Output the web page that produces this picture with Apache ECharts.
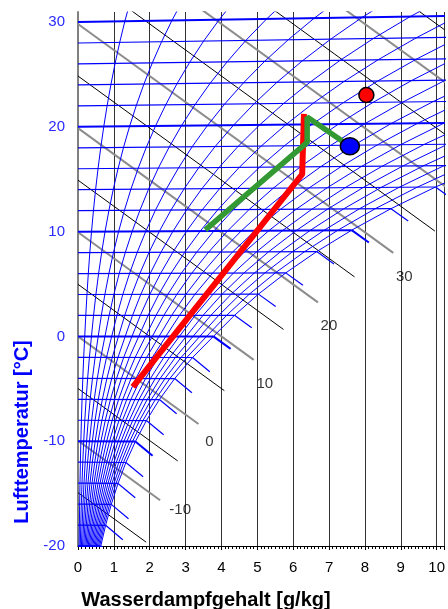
<!DOCTYPE html>
<html>
<head>
<meta charset="utf-8">
<script src="https://cdn.jsdelivr.net/npm/echarts@6/dist/echarts.min.js"></script>
<style>
html, body { margin: 0; padding: 0; background: #fff; }
#main { width: 448px; height: 609px; }
</style>
</head>
<body>
<div id="main"></div>
<script>
// isotherms every 2 °C and the saturation moisture content x_s (g/kg) where each one meets the saturation curve
var temps = [-20, -18, -16, -14, -12, -10, -8, -6, -4, -2, 0, 2, 4, 6, 8, 10, 12, 14, 16, 18, 20, 22, 24, 26, 28, 30, 32];
var satX = [0.634, 0.770, 0.928, 1.116, 1.336, 1.600, 1.907, 2.270, 2.696, 3.194, 3.775, 4.364, 5.031, 5.793, 6.657,
            7.631, 8.727, 9.967, 11.364, 12.934, 14.697, 16.672, 18.880, 21.353, 24.117, 27.205, 30.66];
// relative humidity curves (%)
var rhLevels = [5, 10, 15, 20, 25, 30, 35, 40, 45, 50, 55, 60, 65, 70, 75, 80, 85, 90, 95, 100];
// enthalpy lines (kJ/kg) and the moisture content where each one stops
var enthalpies = [-15, -10, -5, 0, 5, 10, 15, 20, 25, 30, 35, 40, 45, 50, 55];
var enthalpyEndX = [1.9, 2.29, 2.78, 3.36, 4.08, 4.9, 5.73, 6.69, 7.71, 8.79, 9.95, 12, 12, 12, 12];
var labelledEnthalpies = [-10, 0, 10, 20, 30];

// process lines: [x g/kg, t °C]
var redLine = [[1.53, -4.8], [6.25, 15.3], [6.3, 21.0]];
var greenLine = [[3.55, 10.1], [6.39, 18.3], [6.39, 20.7], [7.58, 17.9]];
var redPoint = [8.04, 22.7];
var bluePoint = [7.58, 17.9];

var P = 1013.25;
var fogLen = 0.48;
var FONT = 'Liberation Sans, Arial, sans-serif';

// h-x chart: y axis is skewed so that the 0 °C isotherm stays horizontal
function skewY(x, t) { return t * (1 + 0.001849 * x); }
function hLineY(h, x) { return (h - 2.501 * x) / 1.006; }
function toChart(p) { return [p[0], skewY(p[0], p[1])]; }

var series = [];

enthalpies.forEach(function (h, i) {
  var major = h % 10 === 0;
  var xe = enthalpyEndX[i];
  series.push({
    type: 'line', silent: true, symbol: 'none', z: 1, animation: false,
    data: [[0, hLineY(h, 0)], [xe, hLineY(h, xe)]],
    lineStyle: { color: major ? '#8c8c8c' : '#000', width: major ? 2 : 1 }
  });
});

temps.forEach(function (t, i) {
  if (t > 30) return;
  var xs = satX[i];
  var heavy = t % 10 === 0;
  var w = heavy ? 2 : 1.2;
  var xe = Math.min(xs, 11);
  series.push({
    type: 'line', silent: true, symbol: 'none', z: 2, animation: false,
    data: [[0, t], [xe, skewY(xe, t)]],
    lineStyle: { color: '#0000ff', width: w }
  });
  if (xs < 10.4) {
    // fog isotherm (water above 0 °C, ice below)
    var dh = t >= 0 ? 4.19 * t / 1000 : (-333.5 + 2.05 * t) / 1000;
    var slope = (dh - 2.501) / 1.006;
    var ys = skewY(xs, t);
    series.push({
      type: 'line', silent: true, symbol: 'none', z: 2, animation: false,
      data: [[xs, ys], [xs + fogLen, ys + slope * fogLen]],
      lineStyle: { color: '#0000ff', width: w }
    });
  }
});

rhLevels.forEach(function (rh) {
  var f = rh / 100;
  var pts = temps.map(function (t, i) {
    var ps = P * satX[i] / (622 + satX[i]);
    var x = 622 * f * ps / (P - f * ps);
    return [x, skewY(x, t)];
  });
  series.push({
    type: 'line', silent: true, symbol: 'none', z: 2, animation: false,
    data: pts,
    lineStyle: { color: '#0000ff', width: 1 }
  });
});

var labelOffsets = { '-10': [20, 10], '0': [11, 18], '10': [11, 24], '20': [11, 23], '30': [11, 24] };
series.push({
  type: 'scatter', silent: true, symbolSize: 1, z: 3, animation: false,
  itemStyle: { color: 'rgba(0,0,0,0)' },
  data: labelledEnthalpies.map(function (h) {
    var xe = enthalpyEndX[enthalpies.indexOf(h)];
    return {
      value: [xe, hLineY(h, xe)],
      label: { show: true, position: 'inside', offset: labelOffsets[String(h)], formatter: String(h),
               color: '#000', fontSize: 15, fontFamily: FONT }
    };
  })
});

series.push({
  type: 'line', symbol: 'none', z: 10, animation: false,
  data: redLine.map(toChart),
  lineStyle: { color: '#ff0000', width: 6 }
});
series.push({
  type: 'line', symbol: 'none', z: 11, animation: false,
  data: greenLine.map(toChart),
  lineStyle: { color: '#339933', width: 5.5 }
});
series.push({
  type: 'scatter', z: 12, animation: false,
  symbolSize: [15, 15],
  itemStyle: { color: '#ff0000', borderColor: '#000', borderWidth: 1.5, opacity: 1 },
  data: [toChart(redPoint)]
});
series.push({
  type: 'scatter', z: 12, animation: false,
  symbolSize: [19, 17],
  itemStyle: { color: '#0000ff', borderColor: '#000', borderWidth: 1.5, opacity: 1 },
  data: [toChart(bluePoint)]
});

var chart = echarts.init(document.getElementById('main'), null, { renderer: 'canvas' });
chart.setOption({
  animation: false,
  backgroundColor: '#fff',
  grid: { left: 78, top: 12, width: 370, height: 534 },
  xAxis: {
    type: 'value', min: 0, max: 10.2, interval: 1,
    axisLine: { show: true, onZero: false, lineStyle: { color: '#000', width: 1 } },
    axisTick: { show: true, length: 4, lineStyle: { color: '#000' } },
    minorTick: { show: true, splitNumber: 10, length: 3, lineStyle: { color: '#000' } },
    axisLabel: { color: '#000', fontSize: 15, margin: 14, fontFamily: FONT, showMaxLabel: false },
    splitLine: { show: true, lineStyle: { color: '#333', width: 1 } },
    minorSplitLine: { show: false }
  },
  yAxis: {
    type: 'value', min: -20, max: 30.96, interval: 10,
    axisLine: { show: true, onZero: false, lineStyle: { color: '#808080', width: 2 } },
    axisTick: { show: false },
    splitLine: { show: false },
    axisLabel: { color: '#2a2aff', fontSize: 15, margin: 13, fontFamily: FONT, showMaxLabel: false }
  },
  graphic: [
    {
      type: 'text', x: 206, y: 600, silent: true,
      style: { text: 'Wasserdampfgehalt [g/kg]', fill: '#000', font: 'bold 20px ' + FONT,
               textAlign: 'center', textVerticalAlign: 'middle', align: 'center', verticalAlign: 'middle' }
    },
    {
      type: 'text', x: 22, y: 432, rotation: Math.PI / 2, silent: true,
      style: { text: 'Lufttemperatur [°C]', fill: '#0000ff', font: 'bold 20px ' + FONT,
               textAlign: 'center', textVerticalAlign: 'middle', align: 'center', verticalAlign: 'middle' }
    }
  ],
  series: series
});
</script>
</body>
</html>
